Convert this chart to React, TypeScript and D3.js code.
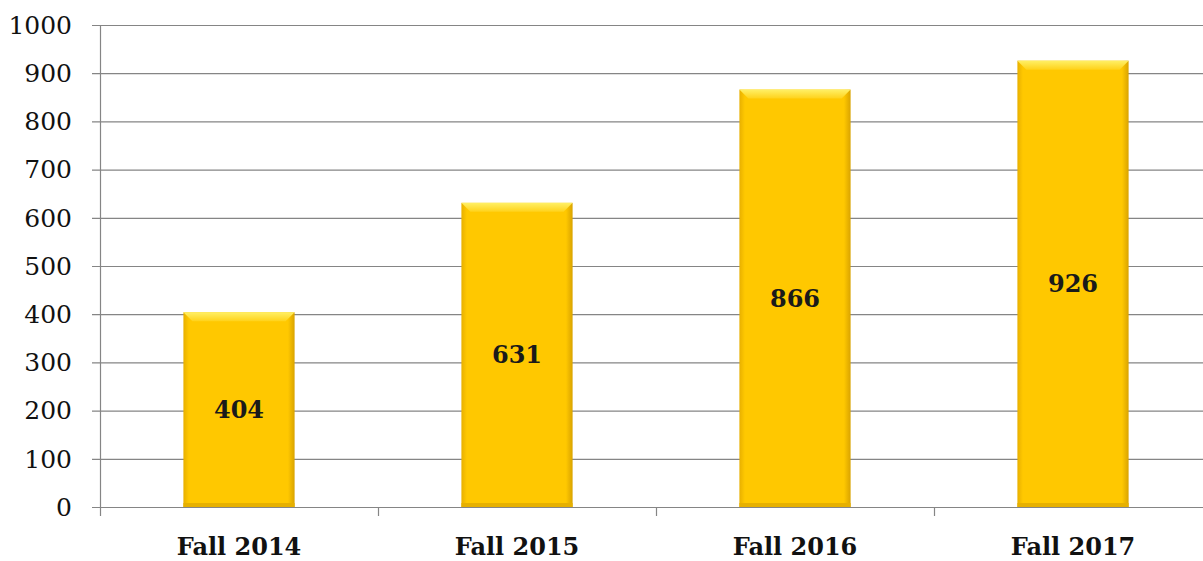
import { useEffect, useRef } from "react"
import * as d3 from "d3"

const categories = ["Fall 2014", "Fall 2015", "Fall 2016", "Fall 2017"]
const enrollments = [404, 631, 866, 926]
const yTicks = [0, 100, 200, 300, 400, 500, 600, 700, 800, 900, 1000]

const W = 1203
const H = 561

export default function App() {
  const svgRef = useRef<SVGSVGElement>(null)

  useEffect(() => {
    if (!svgRef.current) return
    document.body.style.margin = "0"
    const svg = d3.select(svgRef.current)
    svg.selectAll("*").remove()

    const left = 100
    const right = 1212
    const top = 25
    const bottom = 507

    const x = d3.scaleBand<string>().domain(categories).range([left, right]).paddingInner(0.6).paddingOuter(0.3)
    const step = x.step()
    const y = d3.scaleLinear().domain([0, 1000]).range([bottom, top])

    const defs = svg.append("defs")
    const body = defs.append("linearGradient").attr("id", "bar-body").attr("x1", "0%").attr("x2", "100%").attr("y1", "0%").attr("y2", "0%")
    body.append("stop").attr("offset", "0%").attr("stop-color", "#e8b000")
    body.append("stop").attr("offset", "5%").attr("stop-color", "#ffc800")
    body.append("stop").attr("offset", "94%").attr("stop-color", "#ffc800")
    body.append("stop").attr("offset", "100%").attr("stop-color", "#d9a300")

    const bevel = defs.append("linearGradient").attr("id", "bar-bevel").attr("x1", "0%").attr("x2", "0%").attr("y1", "0%").attr("y2", "100%")
    bevel.append("stop").attr("offset", "0%").attr("stop-color", "#fff066")
    bevel.append("stop").attr("offset", "100%").attr("stop-color", "#ffd21a")

    // gridlines
    svg.append("g")
      .selectAll("line")
      .data(yTicks)
      .join("line")
      .attr("x1", left - 8)
      .attr("x2", W)
      .attr("y1", d => y(d) + 0.5)
      .attr("y2", d => y(d) + 0.5)
      .attr("stroke", "#858585")
      .attr("stroke-width", 1.2)

    // y axis line
    svg.append("line")
      .attr("x1", left + 0.5).attr("x2", left + 0.5)
      .attr("y1", top).attr("y2", bottom + 9)
      .attr("stroke", "#858585").attr("stroke-width", 1.2)

    // x category ticks
    svg.append("g")
      .selectAll("line")
      .data(categories.slice(1))
      .join("line")
      .attr("x1", d => (x(d) ?? 0) - (step - x.bandwidth()) / 2 + 0.5)
      .attr("x2", d => (x(d) ?? 0) - (step - x.bandwidth()) / 2 + 0.5)
      .attr("y1", bottom)
      .attr("y2", bottom + 9)
      .attr("stroke", "#858585").attr("stroke-width", 1.2)

    // y labels
    svg.append("g")
      .selectAll("text")
      .data(yTicks)
      .join("text")
      .attr("x", 72)
      .attr("y", d => y(d))
      .attr("dy", "0.35em")
      .attr("text-anchor", "end")
      .attr("font-family", "'DejaVu Serif', serif")
      .attr("font-size", 25)
      .attr("fill", "#111")
      .text(d => d)

    // bars
    const bw = x.bandwidth()
    const bars = svg.append("g")
      .selectAll("g")
      .data(enrollments)
      .join("g")
      .attr("transform", (d, i) => `translate(${x(categories[i])},${y(d)})`)

    bars.append("rect")
      .attr("x", 0).attr("y", 0)
      .attr("width", bw)
      .attr("height", d => bottom - y(d))
      .attr("fill", "url(#bar-body)")

    bars.append("rect")
      .attr("x", 0)
      .attr("y", d => bottom - y(d) - 4)
      .attr("width", bw)
      .attr("height", 4)
      .attr("fill", "#e6b000")

    bars.append("path")
      .attr("d", `M0,0 L${bw},0 L${bw - 9},9 L9,9 Z`)
      .attr("fill", "url(#bar-bevel)")

    bars.append("text")
      .attr("x", bw / 2)
      .attr("y", d => (bottom - y(d)) / 2)
      .attr("dy", "0.35em")
      .attr("text-anchor", "middle")
      .attr("font-family", "'DejaVu Serif', serif")
      .attr("font-weight", "bold")
      .attr("font-size", 24)
      .attr("fill", "#1a1a1a")
      .text(d => d)

    // x labels
    svg.append("g")
      .selectAll("text")
      .data(categories)
      .join("text")
      .attr("x", d => (x(d) ?? 0) + bw / 2)
      .attr("y", 547)
      .attr("dy", "0.35em")
      .attr("text-anchor", "middle")
      .attr("font-family", "'DejaVu Serif', serif")
      .attr("font-weight", "bold")
      .attr("font-size", 24)
      .attr("fill", "#111")
      .text(d => d)
  }, [])

  return (
    <div style={{ position: "absolute", left: 0, top: 0, width: W, height: H, background: "#fff" }}>
      <svg ref={svgRef} width={W} height={H} />
    </div>
  )
}
